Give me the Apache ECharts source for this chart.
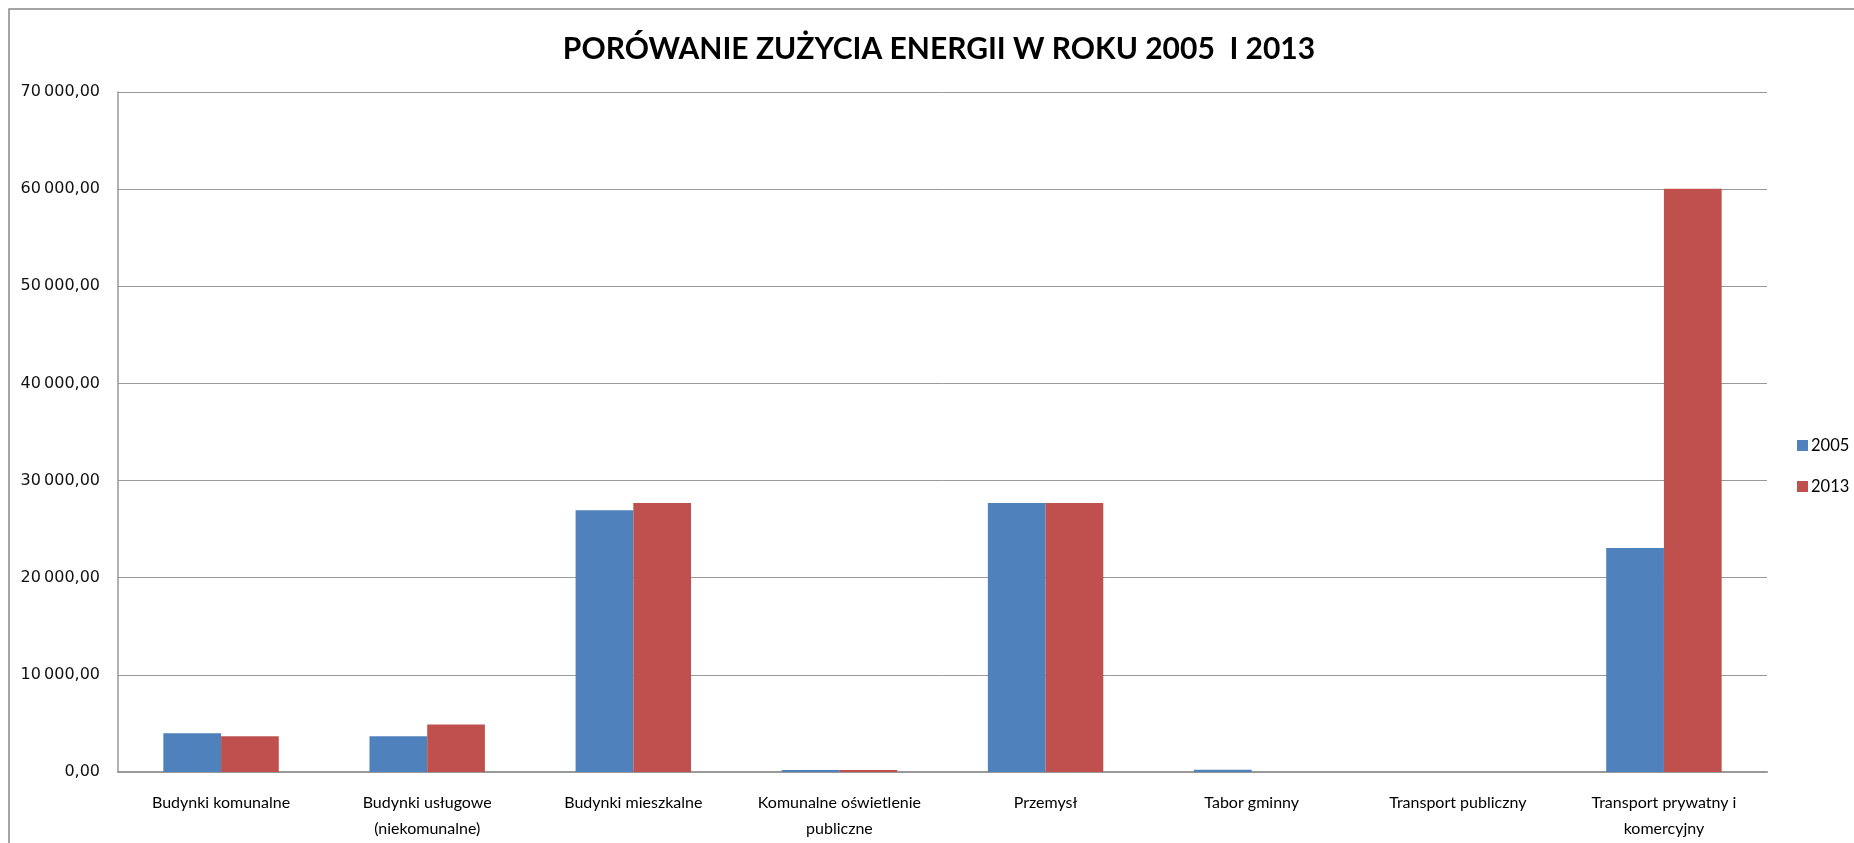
<!DOCTYPE html>
<html>
<head>
<meta charset="utf-8">
<script src="https://cdn.jsdelivr.net/npm/echarts@6/dist/echarts.min.js"></script>
<style>
  html, body { margin: 0; padding: 0; background: #fff; }
  #chart { width: 1854px; height: 843px; }
</style>
</head>
<body>
<div id="chart"></div>
<script>
var categories = ['Budynki komunalne', 'Budynki usługowe\n(niekomunalne)', 'Budynki mieszkalne',
    'Komunalne oświetlenie\npubliczne', 'Przemysł', 'Tabor gminny', 'Transport publiczny',
    'Transport prywatny i\nkomercyjny'];
var values2005 = [3980, 3680, 26950, 200, 27700, 220, 0, 23050];
var values2013 = [3680, 4880, 27680, 200, 27700, 0, 0, 60050];
var seriesNames = ['2005', '2013'];

// format 70000 -> "70 000,00"
function plNumber(v) {
    var s = Math.round(v).toString().replace(/\B(?=(\d{3})+(?!\d))/g, '\u2009');
    return s + ',00';
}

var chart = echarts.init(document.getElementById('chart'));
var option = {
    animation: false,
    backgroundColor: '#fff',
    title: {
        text: 'PORÓWANIE ZUŻYCIA ENERGII W ROKU 2005  I 2013',
        left: 934,
        textAlign: 'center',
        top: 29,
        textStyle: {
            fontFamily: 'Lato, sans-serif',
            fontWeight: 'bold',
            fontSize: 30,
            color: '#000'
        }
    },
    graphic: [{
        type: 'rect',
        shape: {x: 9, y: 9, width: 1900, height: 900},
        style: {fill: 'none', stroke: '#888', lineWidth: 1.5},
        silent: true
    }],
    legend: {
        orient: 'vertical',
        left: 1792,
        top: 432,
        itemWidth: 11,
        itemHeight: 11,
        itemGap: 24,
        icon: 'rect',
        data: seriesNames,
        textStyle: {
            fontFamily: 'Lato, sans-serif',
            fontSize: 16.5,
            color: '#000',
            padding: [0, 0, 0, -2]
        }
    },
    grid: {
        left: 118,
        right: 87,
        top: 92,
        bottom: 71,
        containLabel: false
    },
    xAxis: {
        type: 'category',
        data: categories,
        axisLine: {lineStyle: {color: '#999', width: 2}},
        axisTick: {show: false},
        axisLabel: {
            interval: 0,
            margin: 18,
            lineHeight: 26,
            fontFamily: 'Lato, sans-serif',
            fontSize: 16,
            color: '#000'
        }
    },
    yAxis: {
        type: 'value',
        min: 0,
        max: 70000,
        interval: 10000,
        axisLine: {show: true, lineStyle: {color: '#999', width: 1.5}},
        axisTick: {show: false},
        splitLine: {lineStyle: {color: '#999', width: 1}},
        axisLabel: {
            margin: 18,
            formatter: plNumber,
            fontFamily: 'DejaVu Sans',
            fontSize: 16,
            color: '#111'
        }
    },
    series: [{
        name: seriesNames[0],
        type: 'bar',
        data: values2005,
        barGap: '0%',
        barCategoryGap: '44%',
        itemStyle: {color: '#4F81BD'}
    }, {
        name: seriesNames[1],
        type: 'bar',
        data: values2013,
        barGap: '0%',
        barCategoryGap: '44%',
        itemStyle: {color: '#C0504D'}
    }]
};
chart.setOption(option);
</script>
</body>
</html>
